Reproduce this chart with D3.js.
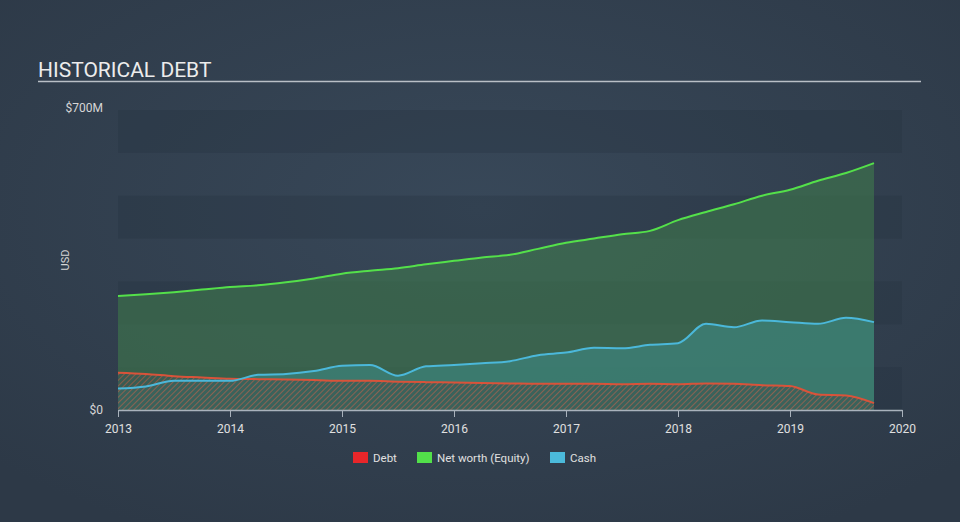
<!DOCTYPE html>
<html>
<head>
<meta charset="utf-8">
<script src="https://cdn.jsdelivr.net/npm/d3@7"></script>
<style>
  html, body { margin: 0; padding: 0; background: #2f3c4b; }
  svg { display: block; }
  text { font-family: Roboto, "Open Sans", sans-serif; }
</style>
</head>
<body>
<svg id="chart" width="960" height="522"></svg>
<script>
// Quarterly dates (fractional years)
const dates = [2013.0, 2013.25, 2013.5, 2013.75, 2014.0, 2014.25, 2014.5, 2014.75,
               2015.0, 2015.25, 2015.5, 2015.75, 2016.0, 2016.25, 2016.5, 2016.75,
               2017.0, 2017.25, 2017.5, 2017.75, 2018.0, 2018.25, 2018.5, 2018.75,
               2019.0, 2019.25, 2019.5, 2019.75];
// Values in $M
const equity = [266, 270, 275, 281, 287, 291, 298, 307,
                318, 325, 331, 340, 348, 356, 362, 376,
                390, 400, 410, 418, 443, 462, 480, 500,
                514, 535, 553, 576];
const cash = [50, 55, 68, 68, 68, 82, 84, 91,
              103, 105, 80, 102, 105, 109, 114, 128,
              134, 145, 144, 152, 156, 201, 193, 209,
              205, 201, 215, 205];
const debt = [87, 84, 79, 76, 73, 72, 71, 70,
              68, 68, 66, 65, 64, 63, 62, 61,
              61, 61, 60, 61, 60, 62, 61, 58,
              56, 36, 34, 16];
const xTicks = [2013, 2014, 2015, 2016, 2017, 2018, 2019, 2020];
const yTickLabels = ["$0", "$700M"];
const legendItems = ["Debt", "Net worth (Equity)", "Cash"];

const svg = d3.select("#chart");
const W = 960, H = 522;
const defs = svg.append("defs");

const bg = defs.append("radialGradient").attr("id", "bg")
  .attr("cx", "50%").attr("cy", "40%").attr("r", "70%");
bg.append("stop").attr("offset", "0%").attr("stop-color", "#384859");
bg.append("stop").attr("offset", "100%").attr("stop-color", "#2d3947");
svg.append("rect").attr("width", W).attr("height", H).attr("fill", "url(#bg)");

const hatch = defs.append("pattern").attr("id", "hatch")
  .attr("patternUnits", "userSpaceOnUse").attr("width", 4).attr("height", 4)
  .attr("patternTransform", "rotate(45)");
hatch.append("rect").attr("width", 4).attr("height", 4).attr("fill", "#3a5a55");
hatch.append("line").attr("x1", 0).attr("y1", 0).attr("x2", 0).attr("y2", 4)
  .attr("stroke", "#c05a45").attr("stroke-width", 1.6);

const x = d3.scaleLinear().domain([2013, 2020]).range([118, 902]);
const y = d3.scaleLinear().domain([0, 700]).range([410, 110]);

// bands
const bands = d3.range(0, 700, 100).filter((d, i) => i % 2 === 0);
svg.append("g").selectAll("rect").data(bands).join("rect")
  .attr("x", x(2013)).attr("width", x(2020) - x(2013))
  .attr("y", d => y(d + 100)).attr("height", d => y(d) - y(d + 100))
  .attr("fill", "#263240").attr("opacity", 0.3);

// Title
svg.append("text").attr("x", 38).attr("y", 77).text("HISTORICAL DEBT")
  .attr("fill", "#ececec").attr("font-size", 21);
svg.append("line").attr("x1", 38).attr("x2", 921).attr("y1", 81.5).attr("y2", 81.5)
  .attr("stroke", "#b9bfc6").attr("stroke-width", 1.5);

const data = dates.map((d, i) => ({ d, e: equity[i], c: cash[i], b: debt[i] }));
const curve = d3.curveMonotoneX;

const area = key => d3.area().curve(curve).x(p => x(p.d)).y0(y(0)).y1(p => y(p[key]));
const line = key => d3.line().curve(curve).x(p => x(p.d)).y(p => y(p[key]));

svg.append("path").datum(data).attr("d", area("e")).attr("fill", "#3f7a4c").attr("opacity", 0.6);
svg.append("path").datum(data).attr("d", area("c")).attr("fill", "#3d8a86").attr("opacity", 0.6);
svg.append("path").datum(data).attr("d", area("b")).attr("fill", "url(#hatch)").attr("opacity", 0.75);

svg.append("path").datum(data).attr("d", line("b")).attr("fill", "none")
  .attr("stroke", "#d9533a").attr("stroke-width", 2);
svg.append("path").datum(data).attr("d", line("c")).attr("fill", "none")
  .attr("stroke", "#4bb8da").attr("stroke-width", 2);
svg.append("path").datum(data).attr("d", line("e")).attr("fill", "none")
  .attr("stroke", "#54e04a").attr("stroke-width", 2);

// X axis
const xAxis = d3.axisBottom(x).tickValues(xTicks).tickFormat(d3.format("d")).tickSize(7).tickSizeOuter(0);
const gx = svg.append("g").attr("transform", `translate(0,${y(0)})`).call(xAxis);
gx.select(".domain").attr("stroke", "#a9b2bc").attr("stroke-width", 1.5);
gx.selectAll(".tick line").attr("stroke", "#a9b2bc");
gx.selectAll(".tick text").attr("fill", "#e0e0e0").attr("font-size", 12)
  .attr("font-family", "Roboto, sans-serif").attr("dy", "1.05em");

// Y labels
svg.append("text").attr("x", 103).attr("y", 112).attr("text-anchor", "end")
  .attr("fill", "#d6d6d6").attr("font-size", 12).text(yTickLabels[1]);
svg.append("text").attr("x", 103).attr("y", 414).attr("text-anchor", "end")
  .attr("fill", "#d6d6d6").attr("font-size", 12).text(yTickLabels[0]);
svg.append("text").attr("transform", "translate(69,260) rotate(-90)")
  .attr("text-anchor", "middle").attr("fill", "#d6d6d6").attr("font-size", 11).text("USD");

// Legend
const legColors = ["#e8262a", "#52e04a", "#4bbadb"];
const legX = [353, 417, 550];
const lg = svg.append("g");
legendItems.forEach((t, i) => {
  lg.append("rect").attr("x", legX[i]).attr("y", 452).attr("width", 15).attr("height", 11)
    .attr("fill", legColors[i]);
  lg.append("text").attr("x", legX[i] + 20).attr("y", 461.5).attr("fill", "#e0e0e0")
    .attr("font-size", 11.5).text(t);
});
</script>
</body>
</html>
